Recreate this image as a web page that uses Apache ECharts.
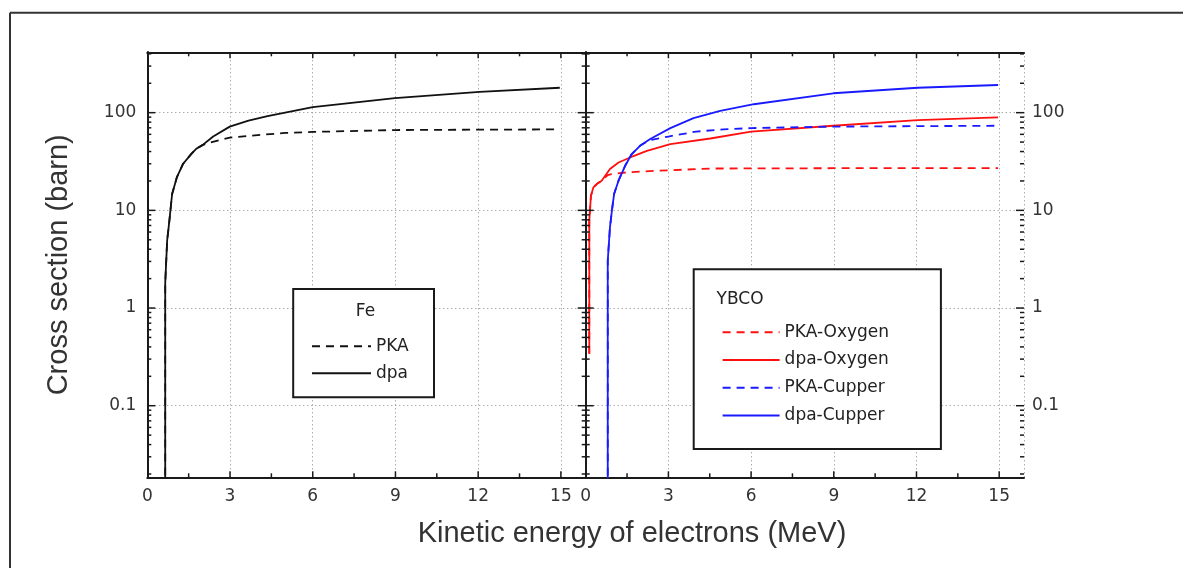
<!DOCTYPE html>
<html>
<head>
<meta charset="utf-8">
<title>Cross section</title>
<script src="https://cdn.jsdelivr.net/npm/echarts@6.0.0/dist/echarts.min.js"></script>
<style>
  html, body { margin: 0; padding: 0; background: #fff; }
  #chart { width: 1183px; height: 568px; }
</style>
</head>
<body>
<div id="chart"></div>
<script>
// 数据: [动能 MeV, 截面 barn]
var feDpa = [[0.65, 0.01], [0.65, 1.8], [0.72, 4.9], [0.80, 7.8], [0.90, 14.7], [1.07, 21.7], [1.30, 30],
  [1.59, 37.7], [1.79, 43], [2.0, 46.5], [2.39, 57], [2.99, 72], [3.67, 82.7], [4.36, 92], [6.0, 114],
  [8.98, 141], [12.05, 163], [14.96, 180]];
var fePka = [[0.65, 0.01], [0.65, 1.8], [0.72, 4.9], [0.80, 7.8], [0.90, 14.7], [1.07, 21.7], [1.30, 30],
  [1.59, 37.7], [1.79, 43], [2.0, 46.5], [2.27, 49.5], [2.99, 55.5], [4.0, 59], [5.0, 62], [6.0, 63.5],
  [9.0, 66.4], [12.0, 67], [14.96, 67.4]];
var oDpa = [[0.13, 0.34], [0.13, 7.8], [0.19, 14.1], [0.28, 17.2], [0.40, 18.6], [0.58, 20.1], [0.88, 26.5],
  [1.19, 30.9], [1.61, 34.8], [2.22, 40.7], [3.07, 47.7], [4.52, 54.4], [6.0, 64], [8.98, 73.5],
  [12.04, 84], [14.96, 89.3]];
var oPka = [[0.13, 0.34], [0.13, 7.8], [0.19, 14.1], [0.28, 17.2], [0.40, 18.6], [0.58, 20.1], [0.80, 23],
  [0.94, 23.5], [1.5, 24.5], [2.5, 25.4], [4.6, 26.8], [9.0, 27], [14.96, 27]];
var cuDpa = [[0.80, 0.01], [0.80, 3.05], [0.88, 6.7], [0.95, 9.9], [1.03, 14.7], [1.19, 20.1], [1.43, 28.6],
  [1.67, 37.7], [1.97, 45.8], [2.34, 53.7], [3.07, 69.5], [3.91, 88], [4.88, 104.4], [6.1, 122],
  [8.98, 158], [12.04, 180], [14.96, 192]];
var cuPka = [[0.80, 0.01], [0.80, 3.05], [0.88, 6.7], [0.95, 9.9], [1.03, 14.7], [1.19, 20.1], [1.43, 28.6],
  [1.67, 37.7], [1.97, 45.8], [2.3, 52], [3.0, 57], [4.0, 64], [5.0, 67.5], [6.0, 69.5], [9.0, 72],
  [14.96, 73.5]];
// 刻度
var xMajorTicks = [3, 6, 9, 12, 15];
var xMinorTicks = [1.5, 4.5, 7.5, 10.5, 13.5];
var yMajorTicks = [0.1, 1, 10, 100];
var yMinorTicks = [0.02, 0.03, 0.04, 0.05, 0.06, 0.07, 0.08, 0.09, 0.2, 0.3, 0.4, 0.5, 0.6, 0.7, 0.8, 0.9,
  2, 3, 4, 5, 6, 7, 8, 9, 20, 30, 40, 50, 60, 70, 80, 90, 200, 300, 400];

var X_MAX = 15.9, Y_MIN = 0.0185, Y_MAX = 415;
var AXIS_COLOR = '#1a1a1a';
var LABEL_FONT = { fontFamily: 'DejaVu Sans', fontSize: 17, color: '#333' };
var GRID_LINE = { color: '#888', type: [1, 3], width: 1 };

function xAxisOpt(gridIndex, top) {
  return {
    type: 'value', gridIndex: gridIndex, position: top ? 'top' : 'bottom',
    min: 0, max: X_MAX, interval: 3,
    axisLine: { lineStyle: { color: AXIS_COLOR, width: 2 } },
    axisTick: { show: false },
    axisLabel: top ? { show: false } : Object.assign({ margin: 11, showMaxLabel: false }, LABEL_FONT),
    splitLine: { show: !top, lineStyle: GRID_LINE }
  };
}

function yAxisOpt(gridIndex, right, labels, grid) {
  return {
    type: 'log', logBase: 10, gridIndex: gridIndex, position: right ? 'right' : 'left',
    min: Y_MIN, max: Y_MAX,
    axisLine: { lineStyle: { color: AXIS_COLOR, width: 2 } },
    axisTick: { show: false },
    axisLabel: labels ? Object.assign({ margin: right ? 8 : 11, showMinLabel: false, showMaxLabel: false,
      formatter: function (v) { return String(v); } }, LABEL_FONT) : { show: false },
    splitLine: { show: grid, lineStyle: GRID_LINE }
  };
}

// 刻度线 (朝内), 用坐标轴换算位置
function tickSeries(idx, vertical) {
  var data = vertical
    ? yMajorTicks.map(function (v) { return [0, v, 8]; }).concat(yMinorTicks.map(function (v) { return [0, v, 4]; }))
    : xMajorTicks.map(function (v) { return [v, 1, 6]; }).concat(xMinorTicks.map(function (v) { return [v, 1, 4]; }));
  return {
    type: 'custom', xAxisIndex: idx * 2, yAxisIndex: idx * 2, silent: true, z: 5, clip: false,
    data: data,
    renderItem: function (params, api) {
      var len = api.value(2);
      var st = { stroke: AXIS_COLOR, lineWidth: 1.5 };
      var a, b;
      if (vertical) {
        a = api.coord([0, api.value(1)]);
        b = api.coord([X_MAX, api.value(1)]);
        return { type: 'group', children: [
          { type: 'line', shape: { x1: a[0], y1: a[1], x2: a[0] + len, y2: a[1] }, style: st },
          { type: 'line', shape: { x1: b[0] - len, y1: b[1], x2: b[0], y2: b[1] }, style: st }
        ] };
      }
      a = api.coord([api.value(0), Y_MIN]);
      b = api.coord([api.value(0), Y_MAX]);
      return { type: 'group', children: [
        { type: 'line', shape: { x1: a[0], y1: a[1], x2: a[0], y2: a[1] - len }, style: st },
        { type: 'line', shape: { x1: b[0], y1: b[1], x2: b[0], y2: b[1] + len }, style: st }
      ] };
    }
  };
}

function lineSeries(name, data, color, dashed, idx) {
  return {
    name: name, type: 'line', data: data, xAxisIndex: idx * 2, yAxisIndex: idx * 2,
    symbol: 'none', showSymbol: false, smooth: false, z: 3,
    lineStyle: { color: color, width: 1.8, type: dashed ? [8, 6] : 'solid' },
    itemStyle: { color: color }
  };
}

var legendText = { fontFamily: 'DejaVu Sans', fontSize: 17, color: '#222' };

var option = {
  backgroundColor: '#fff',
  animation: false,
  grid: [
    { left: 147.3, top: 52.3, width: 438.4, height: 425, containLabel: false },
    { left: 585.7, top: 52.3, width: 438.3, height: 425, containLabel: false }
  ],
  xAxis: [xAxisOpt(0, false), xAxisOpt(0, true), xAxisOpt(1, false), xAxisOpt(1, true)],
  yAxis: [
    Object.assign(yAxisOpt(0, false, true, true), {
      name: 'Cross section (barn)', nameLocation: 'middle', nameGap: 74,
      nameTextStyle: { fontFamily: 'Liberation Sans', fontSize: 29, color: '#333' }
    }),
    yAxisOpt(0, true, false, false),
    yAxisOpt(1, false, false, true),
    yAxisOpt(1, true, true, false)
  ],
  legend: [
    {
      data: ['PKA', 'dpa'], left: 306, top: 332.7, orient: 'vertical', z: 10,
      itemWidth: 59, itemHeight: 18, itemGap: 10, selectedMode: false,
      textStyle: legendText, itemStyle: { opacity: 0 }
    },
    {
      data: ['PKA-Oxygen', 'dpa-Oxygen', 'PKA-Cupper', 'dpa-Cupper'], left: 716.6, top: 318.7,
      orient: 'vertical', z: 10, itemWidth: 57, itemHeight: 18, itemGap: 10.8, selectedMode: false,
      textStyle: legendText, itemStyle: { opacity: 0 }
    }
  ],
  graphic: [
    // 外框
    { type: 'line', shape: { x1: 10, y1: 12.7, x2: 1183, y2: 12.7 }, style: { stroke: '#333', lineWidth: 2 } },
    { type: 'line', shape: { x1: 10, y1: 12.7, x2: 10, y2: 568 }, style: { stroke: '#333', lineWidth: 2 } },
    // 图例框
    { type: 'rect', z: 8, shape: { x: 293.2, y: 289, width: 140.8, height: 108.3 },
      style: { fill: '#fff', stroke: AXIS_COLOR, lineWidth: 2 } },
    { type: 'rect', z: 8, shape: { x: 693.7, y: 269.3, width: 247.2, height: 179.7 },
      style: { fill: '#fff', stroke: AXIS_COLOR, lineWidth: 2 } },
    { type: 'text', z: 11, x: 365.5, y: 312, style: { text: 'Fe', textAlign: 'center', textVerticalAlign: 'middle',
      font: '17px "DejaVu Sans"', fill: '#222' } },
    { type: 'text', z: 11, x: 716.6, y: 300, style: { text: 'YBCO', textAlign: 'left', textVerticalAlign: 'middle',
      font: '17px "DejaVu Sans"', fill: '#222' } },
    { type: 'text', x: 632, y: 534, style: { text: 'Kinetic energy of electrons (MeV)', textAlign: 'center',
      textVerticalAlign: 'middle', font: '29px "Liberation Sans"', fill: '#333' } }
  ],
  series: [
    lineSeries('PKA', fePka, '#111', true, 0),
    lineSeries('dpa', feDpa, '#111', false, 0),
    lineSeries('PKA-Oxygen', oPka, '#ff1010', true, 1),
    lineSeries('dpa-Oxygen', oDpa, '#ff1010', false, 1),
    lineSeries('PKA-Cupper', cuPka, '#1a1aff', true, 1),
    lineSeries('dpa-Cupper', cuDpa, '#1a1aff', false, 1),
    tickSeries(0, true), tickSeries(0, false),
    tickSeries(1, true), tickSeries(1, false)
  ]
};

var myChart = echarts.init(document.getElementById('chart'));
myChart.setOption(option);
</script>
</body>
</html>
